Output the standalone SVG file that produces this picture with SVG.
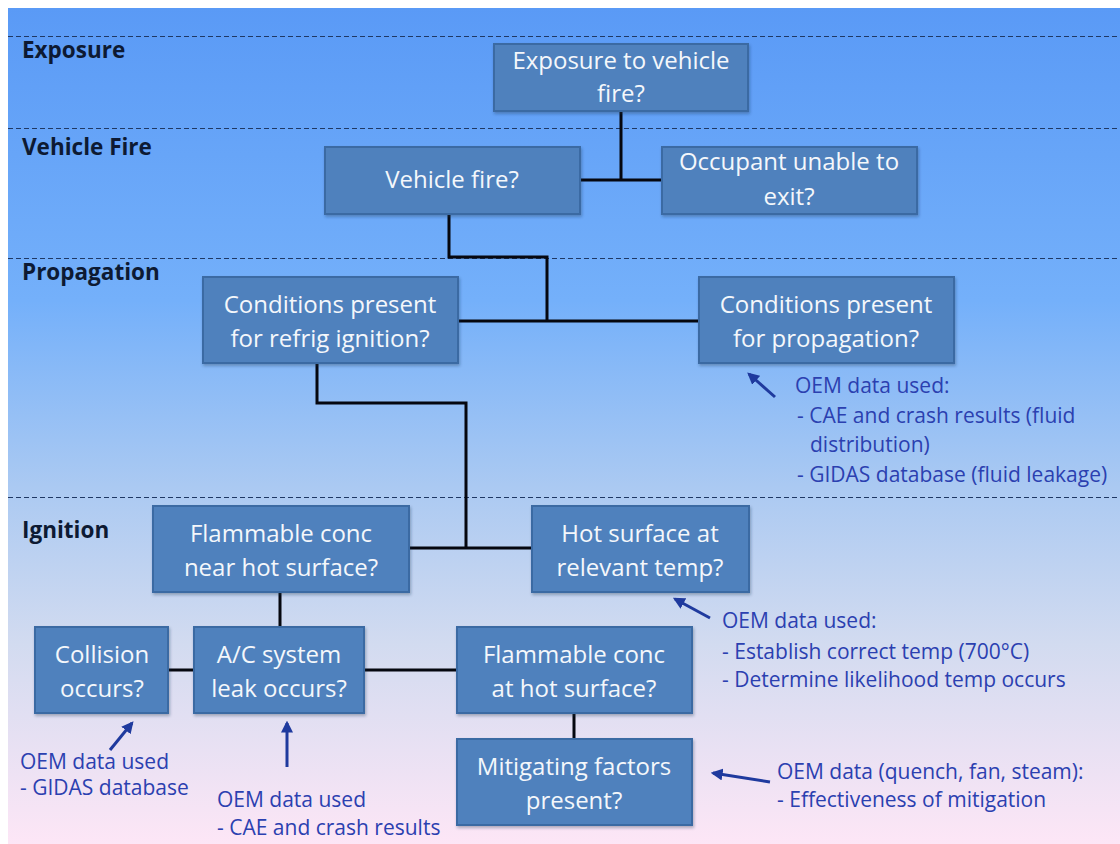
<svg xmlns="http://www.w3.org/2000/svg" width="1120" height="844" viewBox="0 0 1120 844">
<defs>
<linearGradient id="bg" x1="0" y1="0" x2="0" y2="1">
<stop offset="0" stop-color="#5a9af6"/>
<stop offset="0.35" stop-color="#74b0fa"/>
<stop offset="0.57" stop-color="#aac9f2"/>
<stop offset="0.76" stop-color="#d2dbf0"/>
<stop offset="1" stop-color="#fde6f6"/>
</linearGradient>
<filter id="sh" x="-10%" y="-10%" width="130%" height="140%">
<feDropShadow dx="1" dy="2" stdDeviation="1.5" flood-color="#1a3050" flood-opacity="0.35"/>
</filter>
<marker id="ah" viewBox="0 0 10 10" refX="8" refY="5" markerWidth="4" markerHeight="4" orient="auto" markerUnits="strokeWidth">
<path d="M0,0 L10,5 L0,10 z" fill="#1f3a9e"/>
</marker>
<style>
.box{fill:#4f81bd;stroke:#3b6aa3;stroke-width:2;filter:url(#sh)}
.bt{font-family:"Open Sans","Liberation Sans",sans-serif;font-size:24px;fill:#f4f7fb;text-anchor:middle}
.sec{font-family:"Open Sans","Liberation Sans",sans-serif;font-size:22.5px;font-weight:bold;fill:#0d1a33}
.ann{font-family:"Open Sans","Liberation Sans",sans-serif;font-size:21px;fill:#2b40b0}
.dash{stroke:#1f3864;stroke-width:1;stroke-dasharray:5 3;fill:none}
.con{stroke:#05070f;stroke-width:3;fill:none}
.arr{stroke:#1f3a9e;stroke-width:3;fill:none;marker-end:url(#ah)}
</style>
</defs>
<rect x="0" y="0" width="1120" height="844" fill="#ffffff"/>
<rect x="8" y="8" width="1112" height="836" fill="url(#bg)"/>
<g id="lanes">
<path class="dash" d="M8,36.5H1120M8,128.5H1120M8,258.5H1120M8,497.5H1120"/>
<text class="sec" x="22" y="58">Exposure</text>
<text class="sec" x="22" y="155">Vehicle Fire</text>
<text class="sec" x="22" y="280">Propagation</text>
<text class="sec" x="22" y="538">Ignition</text>
</g>
<g id="connectors">
<path class="con" d="M621,111V180M580,180H662"/>
<path class="con" d="M449,214V257H547V321M458,321H699"/>
<path class="con" d="M317,363V403H466V548M409,548H532"/>
<path class="con" d="M280,592V627"/>
<path class="con" d="M168,670H194M364,670H457"/>
<path class="con" d="M574,713V739"/>
</g>
<g id="n-exposure"><rect class="box" x="494" y="44" width="254" height="67"/><text class="bt" x="621" y="69">Exposure to vehicle</text><text class="bt" x="621" y="102">fire?</text></g>
<g id="n-vehiclefire"><rect class="box" x="325" y="147" width="255" height="67"/><text class="bt" x="452" y="188">Vehicle fire?</text></g>
<g id="n-occupant"><rect class="box" x="662" y="147" width="255" height="67"/><text class="bt" x="789" y="170">Occupant unable to</text><text class="bt" x="789" y="205">exit?</text></g>
<g id="n-refrig"><rect class="box" x="203" y="277" width="255" height="86"/><text class="bt" x="330" y="313">Conditions present</text><text class="bt" x="330" y="347">for refrig ignition?</text></g>
<g id="n-propagation"><rect class="box" x="699" y="277" width="255" height="86"/><text class="bt" x="826" y="313">Conditions present</text><text class="bt" x="826" y="347">for propagation?</text></g>
<g id="n-nearhot"><rect class="box" x="153" y="506" width="256" height="86"/><text class="bt" x="281" y="542">Flammable conc</text><text class="bt" x="281" y="576">near hot surface?</text></g>
<g id="n-hotsurface"><rect class="box" x="532" y="506" width="217" height="86"/><text class="bt" x="640" y="542">Hot surface at</text><text class="bt" x="640" y="576">relevant temp?</text></g>
<g id="n-collision"><rect class="box" x="35" y="627" width="133" height="86"/><text class="bt" x="102" y="663">Collision</text><text class="bt" x="102" y="697">occurs?</text></g>
<g id="n-acleak"><rect class="box" x="194" y="627" width="170" height="86"/><text class="bt" x="279" y="663">A/C system</text><text class="bt" x="279" y="697">leak occurs?</text></g>
<g id="n-athot"><rect class="box" x="457" y="627" width="235" height="86"/><text class="bt" x="574" y="663">Flammable conc</text><text class="bt" x="574" y="697">at hot surface?</text></g>
<g id="n-mitigating"><rect class="box" x="457" y="739" width="235" height="86"/><text class="bt" x="574" y="775">Mitigating factors</text><text class="bt" x="574" y="809">present?</text></g>
<g id="annotations">
<path class="arr" d="M775,397L749,374"/>
<path class="arr" d="M710,618L675,599"/>
<path class="arr" d="M770,782L713,773"/>
<path class="arr" d="M110,750L132,723"/>
<path class="arr" d="M287,767V723"/>
<text class="ann" x="795" y="393">OEM data used:</text>
<text class="ann" x="797" y="423">- CAE and crash results (fluid</text>
<text class="ann" x="810" y="452">distribution)</text>
<text class="ann" x="797" y="482">- GIDAS database (fluid leakage)</text>
<text class="ann" x="722" y="628">OEM data used:</text>
<text class="ann" x="722" y="659">- Establish correct temp (700°C)</text>
<text class="ann" x="722" y="687">- Determine likelihood temp occurs</text>
<text class="ann" x="777" y="779">OEM data (quench, fan, steam):</text>
<text class="ann" x="777" y="807">- Effectiveness of mitigation</text>
<text class="ann" x="20" y="769">OEM data used</text>
<text class="ann" x="20" y="795">- GIDAS database</text>
<text class="ann" x="217" y="807">OEM data used</text>
<text class="ann" x="217" y="835">- CAE and crash results</text>
</g>
</svg>
